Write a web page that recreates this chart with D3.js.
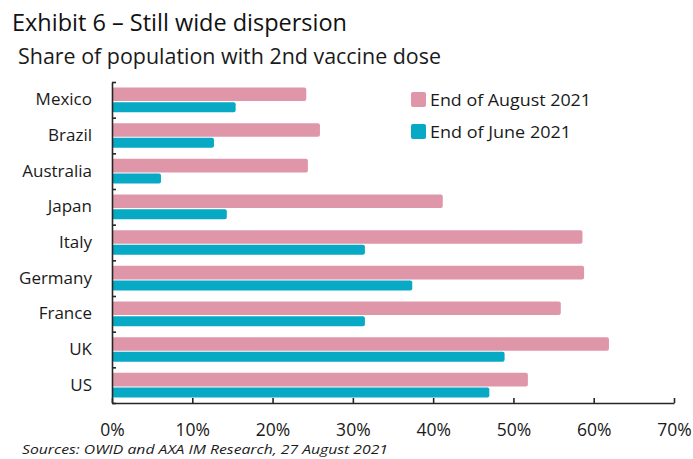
<!DOCTYPE html>
<html>
<head>
<meta charset="utf-8">
<script src="https://cdn.jsdelivr.net/npm/d3@7"></script>
<style>
  body { margin: 0; background: #fff; }
  svg { font-family: "Open Sans", "Noto Sans", sans-serif; }
  .axis { font-family: "Open Sans", "Noto Sans", sans-serif; }
  .axis path, .axis line { stroke: #262626; stroke-width: 1.6; }
  .axis text { fill: #1a1a1a; font-size: 17px; }
  .xaxis text { font-size: 17.5px; }
</style>
</head>
<body>
<svg id="chart" width="693" height="459"></svg>
<script>
// datos (porcentaje de población con 2a dosis)
const countries = ["Mexico", "Brazil", "Australia", "Japan", "Italy", "Germany", "France", "UK", "US"]
const endAugust = [24.2, 25.9, 24.4, 41.2, 58.6, 58.8, 55.9, 61.9, 51.8]
const endJune = [15.4, 12.7, 6.1, 14.3, 31.5, 37.4, 31.5, 48.9, 47.0]
const xTicks = [0, 10, 20, 30, 40, 50, 60, 70]
const seriesNames = ["End of August 2021", "End of June 2021"]
const colors = ["#e096a9", "#07a9c5"]

const svg = d3.select("#chart")

// área del gráfico
const plot = { left: 112, right: 674, top: 82, bottom: 403 }

const x = d3.scaleLinear()
    .domain([0, 70])
    .range([plot.left, plot.right])

const y = d3.scaleBand()
    .domain(countries)
    .range([plot.top, plot.bottom])

// escala auxiliar para las marcas entre categorías
const yEdges = d3.scaleLinear()
    .domain([0, countries.length])
    .range([plot.top, plot.bottom])

// títulos
svg.append("text")
    .attr("x", 12).attr("y", 30.5)
    .attr("font-size", 23)
    .attr("fill", "#111")
    .attr("textLength", 335).attr("lengthAdjust", "spacingAndGlyphs")
    .text("Exhibit 6 – Still wide dispersion")

svg.append("text")
    .attr("x", 18).attr("y", 64)
    .attr("font-size", 21)
    .attr("fill", "#1a1a1a")
    .attr("textLength", 423).attr("lengthAdjust", "spacingAndGlyphs")
    .text("Share of population with 2nd vaccine dose")

// barras
const bw = y.bandwidth()
svg.append("g")
    .selectAll("rect")
    .data(countries)
    .join("rect")
    .attr("x", x(0))
    .attr("y", d => y(d) + bw * 0.155)
    .attr("width", (d, i) => x(endAugust[i]) - x(0))
    .attr("height", bw * 0.38)
    .attr("rx", 2)
    .attr("fill", colors[0])

svg.append("g")
    .selectAll("rect")
    .data(countries)
    .join("rect")
    .attr("x", x(0))
    .attr("y", d => y(d) + bw * 0.565)
    .attr("width", (d, i) => x(endJune[i]) - x(0))
    .attr("height", bw * 0.28)
    .attr("rx", 2)
    .attr("fill", colors[1])

// eje X
svg.append("g")
    .attr("class", "axis xaxis")
    .attr("transform", `translate(0,${plot.bottom})`)
    .call(d3.axisBottom(x)
        .tickValues(xTicks)
        .tickSizeInner(-5)
        .tickSizeOuter(0)
        .tickPadding(21)
        .tickFormat(d => d + "%"))

// eje Y: marcas entre categorías
svg.append("g")
    .attr("class", "axis")
    .attr("transform", `translate(${plot.left},0)`)
    .call(d3.axisLeft(yEdges)
        .ticks(countries.length)
        .tickSizeInner(-4)
        .tickSizeOuter(0)
        .tickFormat(""))

// eje Y: nombres de países
svg.append("g")
    .attr("class", "axis")
    .attr("transform", `translate(${plot.left},0)`)
    .call(d3.axisLeft(y).tickSize(0).tickPadding(20))
    .call(g => g.select(".domain").remove())

// leyenda
const legend = svg.append("g")
    .attr("transform", "translate(411,92)")
const lgLengths = [161, 141]
seriesNames.forEach((name, i) => {
    legend.append("rect")
        .attr("x", 0).attr("y", i * 32)
        .attr("width", 15).attr("height", 15)
        .attr("rx", 2)
        .attr("fill", colors[i])
    legend.append("text")
        .attr("x", 19).attr("y", i * 32 + 14)
        .attr("font-size", 17)
        .attr("fill", "#1a1a1a")
        .attr("textLength", lgLengths[i]).attr("lengthAdjust", "spacingAndGlyphs")
        .text(name)
})

// fuente
svg.append("text")
    .attr("x", 22).attr("y", 454)
    .attr("font-size", 13.5)
    .attr("font-style", "italic")
    .attr("fill", "#1a1a1a")
    .attr("textLength", 366).attr("lengthAdjust", "spacingAndGlyphs")
    .text("Sources: OWID and AXA IM Research, 27 August 2021")
</script>
</body>
</html>
